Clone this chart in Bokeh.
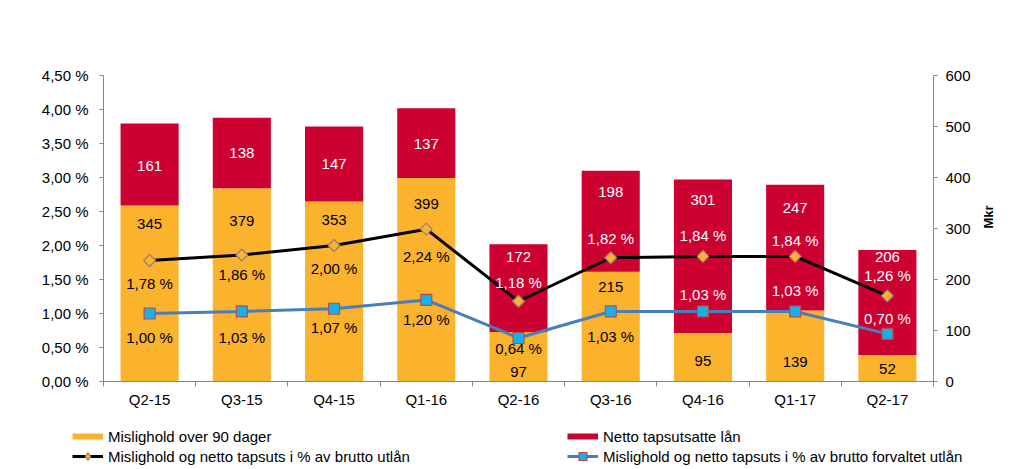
import math
from bokeh.plotting import figure
from bokeh.models import (Range1d, LinearAxis, FixedTicker, CustomJSTickFormatter,
                          Legend, LegendItem, ColumnDataSource)
from bokeh.core.properties import value
from bokeh.embed import file_html
from bokeh.resources import INLINE

# ---------------- data ----------------
categories = ["Q2-15", "Q3-15", "Q4-15", "Q1-16", "Q2-16", "Q3-16", "Q4-16", "Q1-17", "Q2-17"]
mislighold_90 = [345, 379, 353, 399, 97, 215, 95, 139, 52]          # Mkr
netto_tapsutsatte = [161, 138, 147, 137, 172, 198, 301, 247, 206]   # Mkr
pct_brutto_utlan = [1.78, 1.86, 2.00, 2.24, 1.18, 1.82, 1.84, 1.84, 1.26]
pct_brutto_forvaltet = [1.00, 1.03, 1.07, 1.20, 0.64, 1.03, 1.03, 1.03, 0.70]
series_names = ["Mislighold over 90 dager",
                "Netto tapsutsatte lån",
                "Mislighold og netto tapsuts i % av brutto utlån",
                "Mislighold og netto tapsuts i % av brutto forvaltet utlån"]

# ---------------- label placement (layout only) ----------------
yellow_label_y = [309, 314, 317, 348, 18, 185, 41, 38, 25]      # Mkr units
red_label_y = [423, 449, 427, 466, 244, 371, 355, 340, 244]      # Mkr units
black_label_dy = [-23, -19, -23, -27, 19, 19, 21, 16, 20]        # px
blue_label_dy = [-24, -26, -19, -20, -11, -25, 17, 21, 15]       # px
black_label_color = ["#000000"] * 4 + ["#FFFFFF"] * 5
blue_label_color = ["#000000"] * 6 + ["#FFFFFF"] * 3

YELLOW = "#FBB22D"
RED = "#CC0031"
BLUE_LINE = "#4A7EBB"
BLUE_FILL = "#17B0EA"
SQ_EDGE = "#B0504D"
DIA_EDGE = "#9B7B80"
AXIS_GRAY = "#868686"
FONT = "Liberation Sans"

PCT_MAX = 4.5
MKR_MAX = 600
FRAME_H = 306
px_per_pct = FRAME_H / PCT_MAX

x = [i + 0.5 for i in range(len(categories))]
red_top = [a + b for a, b in zip(mislighold_90, netto_tapsutsatte)]

src = ColumnDataSource(dict(
    x=x, cat=categories,
    yel=mislighold_90, red=netto_tapsutsatte, red_top=red_top,
    yel_lbl=[str(v) for v in mislighold_90], red_lbl=[str(v) for v in netto_tapsutsatte],
    yel_lbl_y=yellow_label_y, red_lbl_y=red_label_y,
    blk=pct_brutto_utlan, blu=pct_brutto_forvaltet,
    blk_lbl=[("%.2f %%" % v).replace(".", ",") for v in pct_brutto_utlan],
    blu_lbl=[("%.2f %%" % v).replace(".", ",") for v in pct_brutto_forvaltet],
    blk_lbl_y=[v + d / px_per_pct for v, d in zip(pct_brutto_utlan, black_label_dy)],
    blu_lbl_y=[v + d / px_per_pct for v, d in zip(pct_brutto_forvaltet, blue_label_dy)],
    blk_col=black_label_color, blu_col=blue_label_color,
))

p = figure(width=1024, height=420, output_backend="svg", toolbar_location=None,
           x_range=Range1d(0, len(categories)), y_range=Range1d(0, PCT_MAX),
           min_border_left=103, min_border_right=91, min_border_top=75, min_border_bottom=39)
p.extra_y_ranges = {"mkr": Range1d(0, MKR_MAX)}
p.xgrid.visible = False
p.ygrid.visible = False
p.outline_line_color = None
p.background_fill_color = "white"
p.border_fill_color = "white"

# bars
p.vbar(x="x", bottom=0, top="yel", width=0.63, source=src, y_range_name="mkr",
       fill_color=YELLOW, line_color=None)
p.vbar(x="x", bottom="yel", top="red_top", width=0.63, source=src, y_range_name="mkr",
       fill_color=RED, line_color=None)

# lines
line_blk = dict(line_color="black", line_width=3)
mark_blk = dict(fill_color=YELLOW, line_color=DIA_EDGE, line_width=1.2)
line_blu = dict(line_color=BLUE_LINE, line_width=3)
mark_blu = dict(marker="square", fill_color=BLUE_FILL, line_color=SQ_EDGE, line_width=1.2)

p.line("x", "blk", source=src, **line_blk)
p.scatter("x", "blk", source=src, marker="square", angle=math.pi / 4, size=8.5, **mark_blk)
p.line("x", "blu", source=src, **line_blu)
p.scatter("x", "blu", source=src, size=11, **mark_blu)

# labels
common = dict(text_font=value(FONT), text_font_size="15px", text_align="center",
              text_baseline="middle", source=src)
p.text("x", "yel_lbl_y", text="yel_lbl", y_range_name="mkr", text_color="#000000", **common)
p.text("x", "red_lbl_y", text="red_lbl", y_range_name="mkr", text_color="#FFFFFF", **common)
p.text("x", "blk_lbl_y", text="blk_lbl", text_color="blk_col", **common)
p.text("x", "blu_lbl_y", text="blu_lbl", text_color="blu_col", **common)

# axes
xa = p.xaxis[0]
xa.ticker = FixedTicker(ticks=x, minor_ticks=list(range(len(categories) + 1)))
xa.formatter = CustomJSTickFormatter(args=dict(cats=categories),
                                     code="return cats[Math.floor(tick)];")
xa.major_tick_out = 0
xa.major_tick_in = 0
xa.minor_tick_out = 5
xa.minor_tick_in = 0
xa.minor_tick_line_color = AXIS_GRAY
xa.axis_line_color = AXIS_GRAY
xa.major_label_standoff = 4
xa.major_label_text_font = FONT
xa.major_label_text_font_size = "15px"
xa.major_label_text_color = "#000000"

ya = p.yaxis[0]
ya.ticker = FixedTicker(ticks=[i * 0.5 for i in range(10)], minor_ticks=[])
ya.formatter = CustomJSTickFormatter(code="return tick.toFixed(2).replace('.', ',') + ' %';")
ya.major_tick_out = 4
ya.major_tick_in = 0
ya.minor_tick_out = 0
ya.minor_tick_in = 0
ya.axis_line_color = AXIS_GRAY
ya.major_tick_line_color = AXIS_GRAY
ya.major_label_standoff = 11
ya.major_label_text_font = FONT
ya.major_label_text_font_size = "15px"
ya.major_label_text_color = "#000000"

ra = LinearAxis(y_range_name="mkr", axis_label="Mkr")
ra.ticker = FixedTicker(ticks=list(range(0, MKR_MAX + 1, 100)), minor_ticks=[])
ra.major_tick_out = 4
ra.major_tick_in = 0
ra.minor_tick_out = 0
ra.minor_tick_in = 0
ra.axis_line_color = AXIS_GRAY
ra.major_tick_line_color = AXIS_GRAY
ra.major_label_standoff = 8
ra.major_label_text_font = FONT
ra.major_label_text_font_size = "15px"
ra.major_label_text_color = "#000000"
ra.axis_label_text_font = FONT
ra.axis_label_text_font_size = "13px"
ra.axis_label_text_font_style = "bold"
ra.axis_label_text_color = "#000000"
ra.axis_label_standoff = 15
ra.axis_label_orientation = math.pi / 2
p.add_layout(ra, "right")

# ---------------- legend strip (separate root so it is not clipped to the plot frame) ----------------
lg = figure(width=1024, height=49, output_backend="svg", toolbar_location=None,
            x_range=Range1d(0, 1), y_range=Range1d(0, 1),
            min_border_left=0, min_border_right=0, min_border_top=0, min_border_bottom=0)
lg.axis.visible = False
lg.xgrid.visible = False
lg.ygrid.visible = False
lg.outline_line_color = None
lg.border_fill_color = "white"
nan = float("nan")
r_y = lg.line([nan], [nan], line_color=YELLOW, line_width=6)
r_r = lg.line([nan], [nan], line_color=RED, line_width=6)
r_bl = lg.line([nan], [nan], **line_blk)
r_bm = lg.scatter([nan], [nan], marker="diamond", size=12, **mark_blk)
r_ul = lg.line([nan], [nan], **line_blu)
r_um = lg.scatter([nan], [nan], size=11, **mark_blu)
legend = Legend(items=[
    LegendItem(label=series_names[0], renderers=[r_y]),
    LegendItem(label=series_names[1], renderers=[r_r]),
    LegendItem(label=series_names[2], renderers=[r_bl, r_bm]),
    LegendItem(label=series_names[3], renderers=[r_ul, r_um]),
], ncols=2, orientation="horizontal", location=(72, 3),
    glyph_width=31, glyph_height=20, label_height=20, label_width=459, label_standoff=5,
    padding=0, margin=0, spacing=0, border_line_color=None, background_fill_alpha=0,
    label_text_font=FONT, label_text_font_size="15px", label_text_color="#000000")
lg.add_layout(legend)

open("out.html", "w").write(file_html([p, lg], INLINE))
